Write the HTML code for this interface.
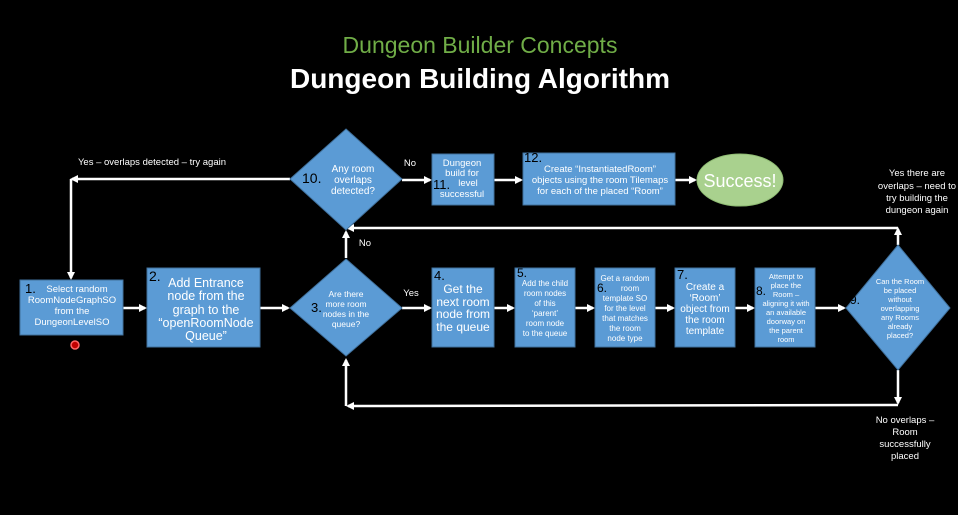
<!DOCTYPE html>
<html><head><meta charset="utf-8"><style>
html,body{margin:0;padding:0;background:#000;}
svg{display:block;}
text{font-family:"Liberation Sans",sans-serif;fill:#fff;}
</style></head><body>
<svg width="958" height="515" viewBox="0 0 958 515" xmlns="http://www.w3.org/2000/svg">
<defs>
<marker id="a" markerWidth="8" markerHeight="8" refX="6" refY="4" orient="auto" markerUnits="userSpaceOnUse"><path d="M0,0 L8,4 L0,8 Z" fill="#fff"/></marker>
</defs>
<rect width="958" height="515" fill="#000"/>
<text x="480" y="53" text-anchor="middle" font-size="23" style="fill:#70ad47">Dungeon Builder Concepts</text>
<text x="480" y="88" text-anchor="middle" font-size="28" font-weight="bold">Dungeon Building Algorithm</text>

<g stroke="#fff" stroke-width="2.5" fill="none">
<line x1="290" y1="179" x2="72" y2="179" marker-end="url(#a)"/>
<line x1="71" y1="179" x2="71" y2="278" marker-end="url(#a)"/>
<line x1="123" y1="308" x2="145" y2="308" marker-end="url(#a)"/>
<line x1="260" y1="308" x2="288" y2="308" marker-end="url(#a)"/>
<line x1="402" y1="308" x2="430" y2="308" marker-end="url(#a)"/>
<line x1="494" y1="308" x2="513" y2="308" marker-end="url(#a)"/>
<line x1="575" y1="308" x2="593" y2="308" marker-end="url(#a)"/>
<line x1="655" y1="308" x2="673" y2="308" marker-end="url(#a)"/>
<line x1="735" y1="308" x2="753" y2="308" marker-end="url(#a)"/>
<line x1="815" y1="308" x2="844" y2="308" marker-end="url(#a)"/>
<line x1="346" y1="258" x2="346" y2="232" marker-end="url(#a)"/>
<line x1="898" y1="245" x2="898" y2="229" marker-end="url(#a)"/>
<line x1="898" y1="228" x2="348" y2="228" marker-end="url(#a)"/>
<line x1="402" y1="180" x2="430" y2="180" marker-end="url(#a)"/>
<line x1="494" y1="180" x2="521" y2="180" marker-end="url(#a)"/>
<line x1="675" y1="180" x2="695" y2="180" marker-end="url(#a)"/>
<line x1="898" y1="370" x2="898" y2="403" marker-end="url(#a)"/>
<line x1="898" y1="405" x2="348" y2="406" marker-end="url(#a)"/>
<line x1="346" y1="406" x2="346" y2="360" marker-end="url(#a)"/>
</g>

<g fill="#5b9bd5" stroke="#41719c" stroke-width="1">
<rect x="20" y="280" width="103" height="55"/>
<rect x="147" y="268" width="113" height="79"/>
<polygon points="346,259 402,308 346,356 290,308"/>
<polygon points="346,129 402,179 346,230 290,179"/>
<rect x="432" y="154" width="62" height="51"/>
<rect x="523" y="153" width="152" height="52"/>
<rect x="432" y="268" width="62" height="79"/>
<rect x="515" y="268" width="60" height="79"/>
<rect x="595" y="268" width="60" height="79"/>
<rect x="675" y="268" width="60" height="79"/>
<rect x="755" y="268" width="60" height="79"/>
<polygon points="898,245 950,308 898,370 846,308"/>
</g>
<ellipse cx="740" cy="180" rx="43" ry="26" fill="#a9d18e" stroke="#8fbc73"/>
<text x="740" y="187" text-anchor="middle" font-size="18">Success!</text>

<circle cx="75" cy="345" r="4" fill="#c00000" stroke="#f66" stroke-width="1.5"/>

<g font-size="9.5" text-anchor="middle">
<text x="152" y="165">Yes – overlaps detected – try again</text>
<text x="410" y="166">No</text>
<text x="365" y="246">No</text>
<text x="411" y="296">Yes</text>
<text x="917" y="176">Yes there are</text>
<text x="917" y="189">overlaps – need to</text>
<text x="917" y="201">try building the</text>
<text x="917" y="213">dungeon again</text>
<text x="905" y="423">No overlaps –</text>
<text x="905" y="435">Room</text>
<text x="905" y="447">successfully</text>
<text x="905" y="459">placed</text>
</g>

<g text-anchor="middle" font-size="9.5">
<text x="25" y="293" text-anchor="start" font-size="13" style="fill:#000">1.</text>
<text x="77" y="292">Select random</text>
<text x="72" y="303">RoomNodeGraphSO</text>
<text x="72" y="314">from the</text>
<text x="72" y="325">DungeonLevelSO</text>
</g>
<g text-anchor="middle" font-size="12.5">
<text x="149" y="281" text-anchor="start" font-size="14" style="fill:#000">2.</text>
<text x="206" y="287">Add Entrance</text>
<text x="206" y="300">node from the</text>
<text x="206" y="314">graph to the</text>
<text x="206" y="327">“openRoomNode</text>
<text x="206" y="340">Queue”</text>
</g>
<g text-anchor="middle" font-size="8.5">
<text x="311" y="312" text-anchor="start" font-size="13" style="fill:#000">3.</text>
<text x="346" y="297">Are there</text>
<text x="346" y="307">more room</text>
<text x="346" y="317">nodes in the</text>
<text x="346" y="327">queue?</text>
</g>
<g text-anchor="middle" font-size="10">
<text x="302" y="183" text-anchor="start" font-size="14" style="fill:#000">10.</text>
<text x="353" y="172">Any room</text>
<text x="353" y="183">overlaps</text>
<text x="353" y="194">detected?</text>
</g>
<g text-anchor="middle" font-size="9.5">
<text x="462" y="166">Dungeon</text>
<text x="462" y="176">build for</text>
<text x="468" y="186">level</text>
<text x="462" y="197">successful</text>
<text x="433" y="189" text-anchor="start" font-size="13" style="fill:#000">11.</text>
</g>
<g text-anchor="middle" font-size="9.5">
<text x="524" y="162" text-anchor="start" font-size="13" style="fill:#000">12.</text>
<text x="600" y="172">Create “InstantiatedRoom”</text>
<text x="600" y="183">objects using the room Tilemaps</text>
<text x="600" y="194">for each of the placed “Room”</text>
</g>
<g text-anchor="middle" font-size="12">
<text x="434" y="280" text-anchor="start" font-size="13" style="fill:#000">4.</text>
<text x="463" y="293">Get the</text>
<text x="463" y="306">next room</text>
<text x="463" y="318">node from</text>
<text x="463" y="331">the queue</text>
</g>
<g text-anchor="middle" font-size="8">
<text x="517" y="277" text-anchor="start" font-size="12" style="fill:#000">5.</text>
<text x="545" y="286">Add the child</text>
<text x="545" y="296">room nodes</text>
<text x="545" y="306">of this</text>
<text x="545" y="316">‘parent’</text>
<text x="545" y="326">room  node</text>
<text x="545" y="336">to the queue</text>
</g>
<g text-anchor="middle" font-size="8">
<text x="597" y="292" text-anchor="start" font-size="12" style="fill:#000">6.</text>
<text x="625" y="281">Get a random</text>
<text x="630" y="291">room</text>
<text x="625" y="301">template SO</text>
<text x="625" y="311">for the level</text>
<text x="625" y="321">that matches</text>
<text x="625" y="331">the room</text>
<text x="625" y="341">node type</text>
</g>
<g text-anchor="middle" font-size="10">
<text x="677" y="279" text-anchor="start" font-size="13" style="fill:#000">7.</text>
<text x="705" y="290">Create a</text>
<text x="705" y="301">‘Room’</text>
<text x="705" y="312">object from</text>
<text x="705" y="323">the room</text>
<text x="705" y="334">template</text>
</g>
<g text-anchor="middle" font-size="7.5">
<text x="756" y="295" text-anchor="start" font-size="12" style="fill:#000">8.</text>
<text x="786" y="279">Attempt to</text>
<text x="786" y="288">place the</text>
<text x="786" y="297">Room –</text>
<text x="786" y="306">aligning it with</text>
<text x="786" y="315">an available</text>
<text x="786" y="324">doorway on</text>
<text x="786" y="333">the parent</text>
<text x="786" y="342">room</text>
</g>
<g text-anchor="middle" font-size="7.5">
<text x="850" y="304" text-anchor="start" font-size="12" style="fill:#000">9.</text>
<text x="900" y="284">Can the Room</text>
<text x="900" y="293">be placed</text>
<text x="900" y="302">without</text>
<text x="900" y="311">overlapping</text>
<text x="900" y="320">any Rooms</text>
<text x="900" y="329">already</text>
<text x="900" y="338">placed?</text>
</g>
</svg>
</body></html>
